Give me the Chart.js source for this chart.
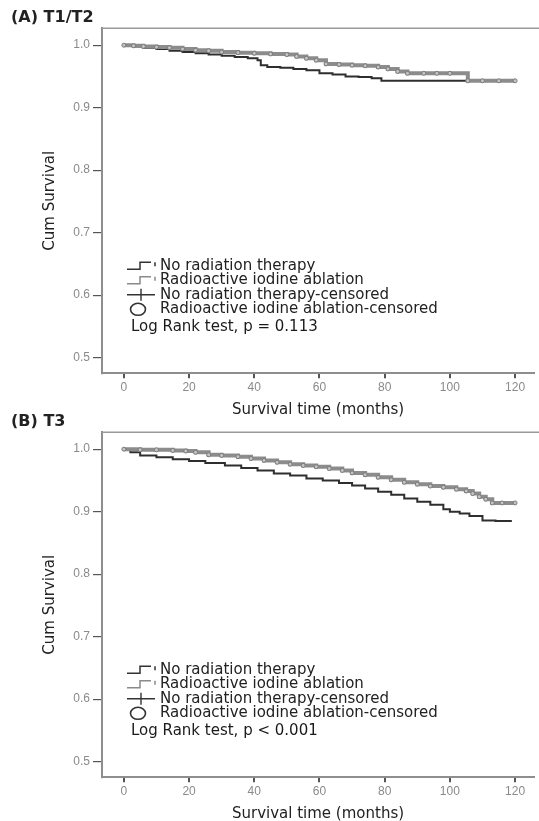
<!DOCTYPE html>
<html>
<head>
<meta charset="utf-8">
<script src="https://cdn.jsdelivr.net/npm/chart.js@4.4.1/dist/chart.umd.min.js"></script>
<style>
  html, body { margin:0; padding:0; background:#ffffff; width:539px; height:821px; overflow:hidden; }
  canvas { position:absolute; left:0; }
  #cA { top:0; }
  #cB { top:404px; }
</style>
</head>
<body>
<canvas id="cA" width="539" height="420"></canvas>
<canvas id="cB" width="539" height="420"></canvas>
<script>
// ---------------- data ----------------
const panelTitles = ['(A) T1/T2', '(B) T3'];
const xTicks = [0, 20, 40, 60, 80, 100, 120];
const yTicks = [0.5, 0.6, 0.7, 0.8, 0.9, 1.0];
const xTitle = 'Survival time (months)';
const yTitle = 'Cum Survival';
const legendLabels = [
  'No radiation therapy',
  'Radioactive iodine ablation',
  'No radiation therapy-censored',
  'Radioactive iodine ablation-censored'
];
const logRankTexts = ['Log Rank test, p = 0.113', 'Log Rank test, p < 0.001'];

// Panel A (T1/T2)
const monthsA_noRT = [0, 3, 6, 10, 14, 18, 22, 26, 30, 34, 38, 41, 42, 44, 48, 52, 56, 60, 64, 68, 72, 76, 79, 85, 95, 107];
const survA_noRT   = [1.000, 0.998, 0.996, 0.994, 0.991, 0.989, 0.987, 0.985, 0.983, 0.981, 0.979, 0.976, 0.968, 0.965, 0.964, 0.962, 0.960, 0.955, 0.953, 0.950, 0.949, 0.947, 0.943, 0.943, 0.943, 0.943];
const monthsA_RAI  = [0, 3, 6, 10, 14, 18, 22, 26, 30, 35, 40, 45, 50, 53, 56, 59, 62, 66, 70, 74, 78, 81, 84, 87, 92, 96, 100, 105.5, 110, 115, 120];
const survA_RAI    = [1.000, 0.999, 0.998, 0.997, 0.996, 0.994, 0.992, 0.991, 0.989, 0.988, 0.987, 0.986, 0.985, 0.982, 0.979, 0.976, 0.970, 0.969, 0.968, 0.967, 0.965, 0.962, 0.958, 0.955, 0.955, 0.955, 0.955, 0.943, 0.943, 0.943, 0.943];

// Panel B (T3)
const monthsB_noRT = [0, 2, 5, 10, 15, 20, 25, 31, 36, 41, 46, 51, 56, 61, 66, 70, 74, 78, 82, 86, 90, 94, 98, 100, 103, 106, 110, 114, 119];
const survB_noRT   = [1.000, 0.995, 0.990, 0.987, 0.984, 0.981, 0.978, 0.974, 0.970, 0.966, 0.961, 0.958, 0.953, 0.950, 0.946, 0.942, 0.937, 0.932, 0.927, 0.921, 0.916, 0.911, 0.904, 0.900, 0.897, 0.893, 0.886, 0.885, 0.885];
const monthsB_RAI  = [0, 5, 10, 15, 19, 22, 26, 30, 35, 39, 43, 47, 51, 55, 59, 63, 67, 70, 74, 78, 82, 86, 90, 94, 98, 102, 105, 107, 109, 111, 113, 116, 120];
const survB_RAI    = [1.000, 0.999, 0.999, 0.998, 0.997, 0.995, 0.991, 0.990, 0.988, 0.985, 0.982, 0.979, 0.976, 0.974, 0.972, 0.969, 0.966, 0.962, 0.959, 0.955, 0.951, 0.947, 0.944, 0.941, 0.939, 0.936, 0.933, 0.929, 0.924, 0.920, 0.914, 0.914, 0.914];

// ---------------- helpers ----------------
function pts(xs, ys) { return xs.map((x, i) => ({ x: x, y: ys[i] })); }

const topBorderPlugin = {
  id: 'topBorder',
  beforeDatasetsDraw(chart) {
    const { ctx, chartArea } = chart;
    ctx.save();
    ctx.strokeStyle = '#9a9a9a';
    ctx.lineWidth = 1.5;
    ctx.beginPath();
    ctx.moveTo(chartArea.left, chartArea.top);
    ctx.lineTo(chart.width, chartArea.top);
    ctx.stroke();
    ctx.restore();
  }
};

const kmLegendPlugin = {
  id: 'kmLegend',
  afterDraw(chart, args, opts) {
    const { ctx, chartArea } = chart;
    const x0 = chartArea.left;
    const b = chartArea.bottom;
    const rowsY = [b - 107.5, b - 93, b - 78.5, b - 64];
    const sx = x0 + 25, tx = x0 + 58;
    ctx.save();
    ctx.font = '15px "DejaVu Sans"';
    ctx.textBaseline = 'middle';
    ctx.textAlign = 'left';
    ctx.lineCap = 'butt';
    rowsY.forEach((y, i) => {
      ctx.beginPath();
      if (i === 0 || i === 1) {
        ctx.strokeStyle = i === 0 ? '#333333' : '#8a8a8a';
        ctx.lineWidth = 1.5;
        ctx.moveTo(sx, y + 3.5); ctx.lineTo(sx + 13, y + 3.5);
        ctx.lineTo(sx + 13, y - 3.5); ctx.lineTo(sx + 24, y - 3.5);
        ctx.moveTo(sx + 28, y - 3.5); ctx.lineTo(sx + 28, y + 0.5);
        ctx.stroke();
      } else if (i === 2) {
        ctx.strokeStyle = '#333333';
        ctx.lineWidth = 1.4;
        ctx.moveTo(sx, y); ctx.lineTo(sx + 28, y);
        ctx.moveTo(sx + 14, y - 6); ctx.lineTo(sx + 14, y + 6);
        ctx.stroke();
      } else {
        ctx.strokeStyle = '#333333';
        ctx.lineWidth = 1.6;
        ctx.ellipse(sx + 11, y, 7.5, 6, 0, 0, Math.PI * 2);
        ctx.stroke();
      }
      ctx.fillStyle = '#222222';
      ctx.fillText(legendLabels[i], tx, y);
    });
    ctx.fillStyle = '#1a1a1a';
    ctx.fillText(opts.logRank, x0 + 29, b - 46.5);
    ctx.restore();
  }
};

function makeChart(canvasId, title, noRT, rai, logRank) {
  const ctx = document.getElementById(canvasId).getContext('2d');
  return new Chart(ctx, {
    type: 'line',
    data: {
      datasets: [
        {
          label: legendLabels[1],
          data: rai,
          stepped: 'before',
          borderColor: '#8c8c8c',
          borderWidth: 4,
          pointRadius: 2,
          pointBorderWidth: 1,
          pointBorderColor: '#7a7a7a',
          pointBackgroundColor: '#c4c4c4',
          tension: 0,
          order: 0
        },
        {
          label: legendLabels[0],
          data: noRT,
          stepped: 'before',
          borderColor: '#2e2e2e',
          borderWidth: 2,
          pointRadius: 0,
          tension: 0,
          order: 1
        }
      ]
    },
    options: {
      responsive: false,
      maintainAspectRatio: false,
      animation: false,
      devicePixelRatio: 1,
      layout: { padding: { left: 11, right: 0, top: 0, bottom: 0 } },
      plugins: {
        legend: { display: false },
        tooltip: { enabled: false },
        title: {
          display: true,
          text: title,
          align: 'start',
          color: '#222222',
          font: { family: 'DejaVu Sans', size: 16, weight: 'bold' },
          padding: { top: 8.4, bottom: 0.7 }
        },
        kmLegend: { logRank: logRank }
      },
      scales: {
        x: {
          type: 'linear',
          min: -6.7,
          max: 125.8,
          afterBuildTicks(scale) { scale.ticks = xTicks.map(v => ({ value: v })); },
          afterFit(scale) { scale.height = 46.7; },
          border: { display: true, color: '#8e8e8e', width: 2 },
          grid: { display: true, drawOnChartArea: false, drawTicks: true, tickLength: 5, color: '#555555', lineWidth: 2 },
          ticks: {
            color: '#8a8a8a',
            padding: 2,
            maxRotation: 0,
            font: { family: 'Liberation Sans', size: 12 },
            callback: v => String(v)
          },
          title: {
            display: true,
            text: xTitle,
            color: '#222222',
            font: { family: 'DejaVu Sans', size: 15 },
            padding: { top: 0, bottom: 1 }
          }
        },
        y: {
          type: 'linear',
          min: 0.475,
          max: 1.027,
          afterBuildTicks(scale) { scale.ticks = yTicks.map(v => ({ value: v })); },
          afterFit(scale) { scale.width = 91; },
          border: { display: true, color: '#8e8e8e', width: 2 },
          grid: { display: true, drawOnChartArea: false, drawTicks: true, tickLength: 9, color: '#555555', lineWidth: 1.2 },
          ticks: {
            color: '#8a8a8a',
            padding: 3,
            font: { family: 'Liberation Sans', size: 12 },
            callback: v => Number(v).toFixed(1)
          },
          title: {
            display: true,
            text: yTitle,
            color: '#222222',
            font: { family: 'DejaVu Sans', size: 15 },
            padding: { top: 30, bottom: 0 }
          }
        }
      }
    },
    plugins: [topBorderPlugin, kmLegendPlugin]
  });
}

makeChart('cA', panelTitles[0], pts(monthsA_noRT, survA_noRT), pts(monthsA_RAI, survA_RAI), logRankTexts[0]);
makeChart('cB', panelTitles[1], pts(monthsB_noRT, survB_noRT), pts(monthsB_RAI, survB_RAI), logRankTexts[1]);
</script>
</body>
</html>
